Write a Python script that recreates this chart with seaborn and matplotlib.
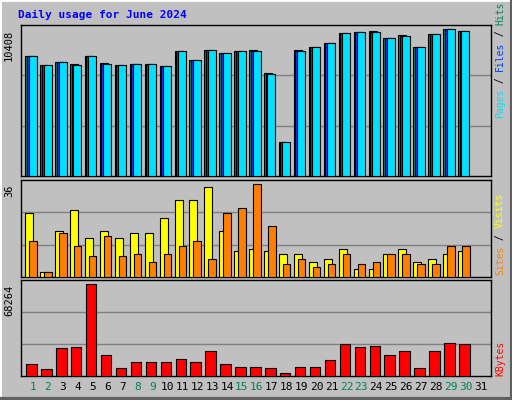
import numpy as np
import pandas as pd
import matplotlib
matplotlib.use("Agg")
import matplotlib.pyplot as plt
import seaborn as sns

days = list(range(1, 31))
day_labels = [str(d) for d in range(1, 32)]
weekend_days = [1, 2, 8, 9, 15, 16, 22, 23, 29, 30]
hits = [8515, 7877, 8090, 7948, 8515, 8019, 7877, 7948, 7948, 7806, 8871, 8232, 8942, 8729, 8871,
        8942, 7310, 2413, 8942, 9131, 9439, 10148, 10219, 10290, 9793, 10006, 9155, 10077, 10408, 10290]
files = [8515, 7877, 8090, 7877, 8515, 7948, 7877, 7948, 7948, 7806, 8871, 8232, 8942, 8729, 8871,
         8871, 7239, 2413, 8871, 9131, 9439, 10148, 10219, 10219, 9793, 9935, 9155, 10077, 10408, 10290]
pages = [8515, 7877, 8090, 7877, 8515, 7948, 7877, 7948, 7948, 7806, 8871, 8232, 8942, 8729, 8871,
         8871, 7239, 2413, 8871, 9131, 9439, 10148, 10219, 10219, 9793, 9935, 9155, 10077, 10408, 10290]
visits = [25, 2, 18, 26, 15, 18, 15, 17, 17, 23, 30, 30, 35, 18, 10,
          11, 10, 9, 9, 6, 7, 11, 3, 3, 9, 11, 6, 7, 9, 10]
sites = [14, 2, 17, 12, 8, 16, 8, 9, 6, 9, 12, 14, 7, 25, 27,
         36, 20, 5, 7, 4, 5, 9, 5, 6, 9, 9, 5, 5, 12, 12]
kbytes = [9002, 5251, 21004, 21755, 68264, 15753, 6001, 10502, 10502, 10502, 12753, 10502, 18754, 9002, 6751,
          6751, 6001, 2250, 6751, 6751, 12002, 24005, 21755, 22505, 15753, 18754, 6001, 18754, 24755, 24005]

BG = "#C0C0C0"
GREEN = "#00805C"
BLUE = "#0040FF"
CYAN = "#00E0FF"
YELLOW = "#FFFF00"
ORANGE = "#FF8000"
RED = "#FF0000"
MONO = "DejaVu Sans Mono"

sns.set_theme(style="white")
plt.rcParams["font.family"] = [MONO]

fig = plt.figure(figsize=(5.12, 4.0), dpi=100, facecolor=BG)
W, H = 512, 400

def add_ax(top, bottom):
    ax = fig.add_axes([21 / W, 1 - bottom / H, 470 / W, (bottom - top) / H])
    ax.set_facecolor(BG)
    for s in ax.spines.values():
        s.set_color("black"); s.set_linewidth(1)
    ax.set_xlim(0.196, 31.69)
    ax.set_xticks([]); ax.set_yticks([])
    return ax

ax1 = add_ax(25, 176)
ax2 = add_ax(180, 277)
ax3 = add_ax(280, 376)

d = np.array(days)
w = 0.536
kw = dict(align="edge", edgecolor="black", linewidth=0.8, zorder=3)
ax1.bar(d - 0.516, hits, w, color=GREEN, **kw)
ax1.bar(d - 0.42, files, w, color=BLUE, **kw)
ax1.bar(d - 0.29, pages, w, color=CYAN, **kw)
top1 = 10408 * 151 / 146.7
ax1.set_ylim(0, top1)

ax2.bar(d - 0.516, visits, w, color=YELLOW, **kw)
ax2.bar(d - 0.25, sites, 0.5, color=ORANGE, **kw)
top2 = 36 * 96 / 91.7
ax2.set_ylim(0, top2)

df = pd.DataFrame({"day": d - 0.1, "kbytes": kbytes})
sns.barplot(data=df, x="day", y="kbytes", native_scale=True, width=0.7, color=RED,
            saturation=1, edgecolor="black", linewidth=0.8, ax=ax3, zorder=3)
ax3.set_xlim(0.196, 31.69)
top3 = 68264 * 95 / 90.7
ax3.set_ylim(0, top3)
ax3.set_xlabel(""); ax3.set_ylabel(""); ax3.set_xticks([]); ax3.set_yticks([])

for ax, top in ((ax1, top1), (ax2, top2), (ax3, top3)):
    base = top * (151 / 151)
for ax, mx in ((ax1, 10408), (ax2, 36), (ax3, 68264)):
    lo, hi = ax.get_ylim()
    for f in (1 / 3, 2 / 3):
        ax.axhline(hi * f, color="#808080", linewidth=1, zorder=1)
    ax.text(-0.015, mx, str(mx), transform=ax.get_yaxis_transform(), rotation=90,
            ha="right", va="top", fontsize=7.5, color="black")

for i, lab in enumerate(day_labels):
    col = GREEN if (i + 1) in weekend_days else "black"
    ax3.text(i + 1, -0.06, lab, transform=ax3.get_xaxis_transform(), ha="center", va="top",
             fontsize=8, color=col)

fig.text(18 / W, 1 - 15 / H, "Daily usage for June 2024", color="#0000FF", fontsize=8,
         fontweight="bold", ha="left", va="center")

def stacked_label(y_bottom_px, pieces, fs=7):
    cw = 0.6 * fs * 100 / 72
    y = y_bottom_px
    for txt, col in pieces:
        fig.text(500 / W, 1 - y / H, txt, color=col, fontsize=fs, rotation=90,
                 ha="center", va="bottom")
        y -= cw * len(txt)

stacked_label(118, [("Pages", CYAN), (" / ", "black"), ("Files", BLUE), (" / ", "black"), ("Hits", GREEN)])
stacked_label(275, [("Sites", ORANGE), (" / ", "black"), ("Visits", YELLOW)])
stacked_label(376, [("KBytes", RED)])

# 3D outer frame
fig.add_artist(plt.Line2D([0, 0, 1], [0, 1, 1], transform=fig.transFigure, color="white", linewidth=2))
fig.add_artist(plt.Line2D([0, 1, 1], [0.003, 0.003, 1], transform=fig.transFigure, color="#606060", linewidth=3))

fig.savefig("out.png", dpi=100, facecolor=BG)
